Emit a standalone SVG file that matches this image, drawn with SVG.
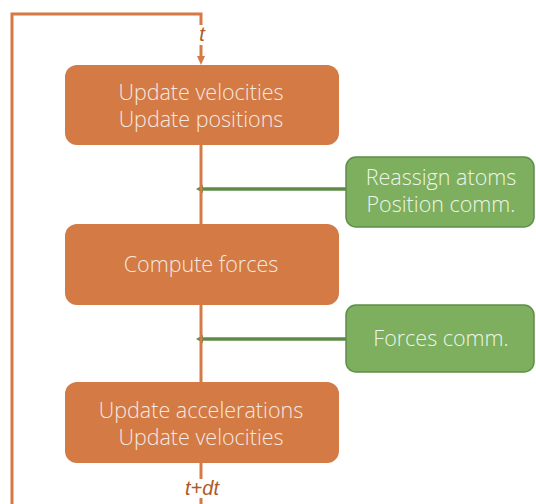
<svg xmlns="http://www.w3.org/2000/svg" width="536" height="504" viewBox="0 0 536 504">
<style>
.ob{fill:#D37A45;}
.gb{fill:#7DAF5F;stroke:#5F8F48;stroke-width:1.5;}
.tx{font-family:"Open Sans","Liberation Sans",sans-serif;font-weight:300;font-size:21.5px;fill:#F5E9E0;text-anchor:middle;}
.gt{fill:#EEF5E8;}
.ol{stroke:#D37A45;stroke-width:3;fill:none;}
.gl{stroke:#5E8A48;stroke-width:3.5;fill:none;}
.lab{font-family:"Liberation Sans",sans-serif;font-style:italic;font-size:20px;fill:#B0582A;text-anchor:middle;}
</style>
<defs>
<marker id="oa" markerWidth="10" markerHeight="10" refX="5" refY="5" orient="auto" markerUnits="userSpaceOnUse">
<path d="M0,1 L9,5 L0,9 Z" fill="#D37A45"/>
</marker>
<marker id="ga" markerWidth="10" markerHeight="10" refX="0" refY="5" orient="auto" markerUnits="userSpaceOnUse">
<path d="M0,1 L7,5 L0,9 Z" fill="#5E8A48"/>
</marker>
</defs>
<g id="connectors">
<path class="gl" d="M346,189 H203" marker-end="url(#ga)"/>
<path class="gl" d="M346,339 H203" marker-end="url(#ga)"/>
<path class="ol" d="M201,25 V14 H12 V504"/>
<path class="ol" d="M201,45 V61" marker-end="url(#oa)"/>
<path class="ol" d="M201,145 V225"/>
<path class="ol" d="M201,304 V383"/>
<path class="ol" d="M201,463 V479"/>
<path class="ol" d="M201,498 V504"/>
<text class="lab" x="202" y="41">t</text>
<text class="lab" x="202" y="495">t+dt</text>
</g>
<g id="n1">
<rect class="ob" x="65" y="65" width="274" height="80" rx="12"/>
<text class="tx" x="201" y="100">Update velocities</text>
<text class="tx" x="201" y="127">Update positions</text>
</g>
<g id="n2">
<rect class="ob" x="65" y="224" width="274" height="81" rx="12"/>
<text class="tx" x="201" y="272">Compute forces</text>
</g>
<g id="n3">
<rect class="ob" x="65" y="382" width="274" height="81" rx="12"/>
<text class="tx" x="201" y="418">Update accelerations</text>
<text class="tx" x="201" y="445">Update velocities</text>
</g>
<g id="n4">
<rect class="gb" x="346" y="157" width="188" height="70" rx="10"/>
<text class="tx gt" x="441" y="185">Reassign atoms</text>
<text class="tx gt" x="441" y="212">Position comm.</text>
</g>
<g id="n5">
<rect class="gb" x="346" y="305" width="188" height="67" rx="10"/>
<text class="tx gt" x="441" y="346">Forces comm.</text>
</g>
</svg>
